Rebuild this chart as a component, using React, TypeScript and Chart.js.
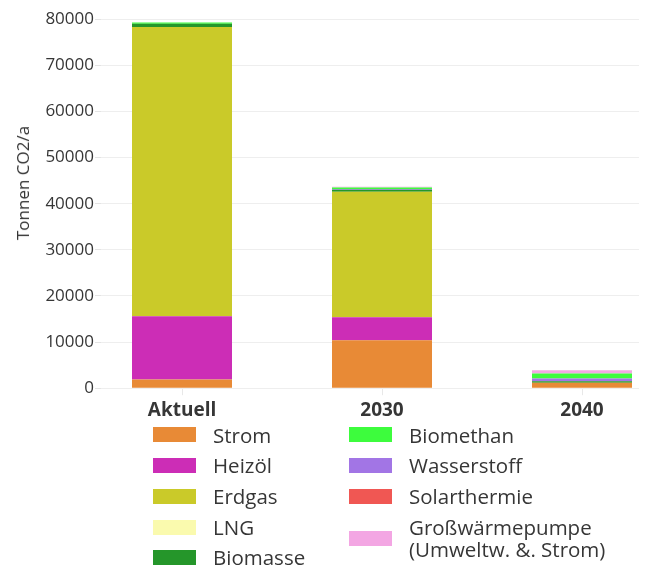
import React, { useEffect, useRef } from 'react';
import { Chart, registerables } from 'chart.js';

Chart.register(...registerables);

// ---- data ----
const categories = ['Aktuell', '2030', '2040'];

const strom = [1900, 10400, 1200];
const heizoel = [13700, 5000, 0];
const erdgas = [62700, 27200, 0];
const lng = [0, 0, 0];
const biomasse = [700, 400, 300];
const wasserstoff = [0, 200, 600];
const biomethan = [300, 300, 1100];
const solarthermie = [0, 0, 0];
const grosswaermepumpe = [0, 150, 700];

const yTicks = [0, 10000, 20000, 30000, 40000, 50000, 60000, 70000, 80000];
const yTitle = 'Tonnen CO2/a';

// stacking order (bottom -> top)
const series = [
  { name: 'Strom', data: strom, color: '#E88A36' },
  { name: 'Heizöl', data: heizoel, color: '#CC2DB6' },
  { name: 'Erdgas', data: erdgas, color: '#CACA29' },
  { name: 'LNG', data: lng, color: '#FAFAAE' },
  { name: 'Biomasse', data: biomasse, color: '#25962A' },
  { name: 'Wasserstoff', data: wasserstoff, color: '#A275E5' },
  { name: 'Biomethan', data: biomethan, color: '#3DFC3D' },
  { name: 'Solarthermie', data: solarthermie, color: '#F05753' },
  { name: 'Großwärmepumpe\n(Umweltw. &. Strom)', data: grosswaermepumpe, color: '#F3A6E3' },
];

const legendCol1 = ['Strom', 'Heizöl', 'Erdgas', 'LNG', 'Biomasse'];
const legendCol2 = ['Biomethan', 'Wasserstoff', 'Solarthermie', 'Großwärmepumpe\n(Umweltw. &. Strom)'];

const FONT = '"Open Sans", "Noto Sans", sans-serif';
const TEXT = '#363636';

const CANVAS_W = 693;
const CANVAS_H = 418;
const Y_AXIS_W = 93;
const X_MIN = -0.405;
const PX_PER_CAT = 200;

export default function App() {
  const ref = useRef<HTMLCanvasElement | null>(null);

  useEffect(() => {
    if (!ref.current) return;
    const xMax = X_MIN + (CANVAS_W - Y_AXIS_W) / PX_PER_CAT;
    const chart = new Chart(ref.current, {
      type: 'bar',
      data: {
        datasets: series.map((s) => ({
          label: s.name,
          data: s.data.map((v, i) => ({ x: i, y: v })),
          backgroundColor: s.color,
          borderWidth: 0,
          stack: 'all',
          barPercentage: 0.5,
          categoryPercentage: 1,
        })),
      },
      options: {
        responsive: false,
        animation: false,
        layout: { padding: 0 },
        plugins: {
          legend: { display: false },
          tooltip: { enabled: false },
        },
        scales: {
          x: {
            type: 'linear',
            offset: false,
            min: X_MIN,
            max: xMax,
            afterBuildTicks: (scale: any) => {
              scale.ticks = categories.map((_, i) => ({ value: i }));
            },
            ticks: {
              autoSkip: false,
              maxRotation: 0,
              padding: 4,
              color: TEXT,
              font: { family: FONT, size: 19, weight: 'bold' },
              callback: (v: any) => categories[Number(v)] ?? '',
            },
            grid: {
              offset: false,
              drawOnChartArea: false,
              drawTicks: true,
              tickLength: 7,
              tickColor: '#e8e8e8',
            },
            border: { display: false },
          },
          y: {
            stacked: true,
            min: 0,
            max: 80000,
            afterFit: (scale: any) => {
              scale.width = Y_AXIS_W;
            },
            afterBuildTicks: (scale: any) => {
              scale.ticks = yTicks.map((v) => ({ value: v }));
            },
            ticks: {
              padding: 1,
              color: TEXT,
              font: { family: FONT, size: 17 },
              callback: (v: any) => String(v),
            },
            grid: {
              color: '#eeeeee',
              tickColor: '#e4e4e4',
              tickLength: 6,
            },
            border: { display: false },
            title: { display: false },
          },
        },
      },
    } as any);
    return () => chart.destroy();
  }, []);

  const colorOf = (name: string) => series.find((s) => s.name === name)?.color ?? '#000';

  const renderItem = (name: string) => (
    <div key={name} style={{ display: 'flex', alignItems: 'center', padding: '4px 0' }}>
      <div
        style={{
          width: 43,
          height: 15,
          background: colorOf(name),
          marginRight: 17,
          flexShrink: 0,
        }}
      />
      <div style={{ whiteSpace: 'pre-line', lineHeight: '22.7px' }}>{name}</div>
    </div>
  );

  return (
    <div
      style={{
        position: 'relative',
        width: 639,
        height: 557,
        overflow: 'hidden',
        fontFamily: FONT,
        color: TEXT,
        fontSize: 20.5,
      }}
    >
      <canvas
        ref={ref}
        width={CANVAS_W}
        height={CANVAS_H}
        style={{ position: 'absolute', left: 0, top: 0, width: CANVAS_W, height: CANVAS_H }}
      />
      <div
        style={{
          position: 'absolute',
          left: 15,
          top: 175,
          width: 0,
          height: 0,
        }}
      >
        <div
          style={{
            position: 'absolute',
            left: 0,
            top: 0,
            transform: 'translate(-50%, -50%) rotate(-90deg)',
            whiteSpace: 'nowrap',
            fontSize: 17,
            lineHeight: '20px',
            color: TEXT,
          }}
        >
          {yTitle}
        </div>
      </div>
      <div style={{ position: 'absolute', left: 145, top: 411.6 }}>{legendCol1.map(renderItem)}</div>
      <div style={{ position: 'absolute', left: 341, top: 411.6 }}>{legendCol2.map(renderItem)}</div>
    </div>
  );
}
